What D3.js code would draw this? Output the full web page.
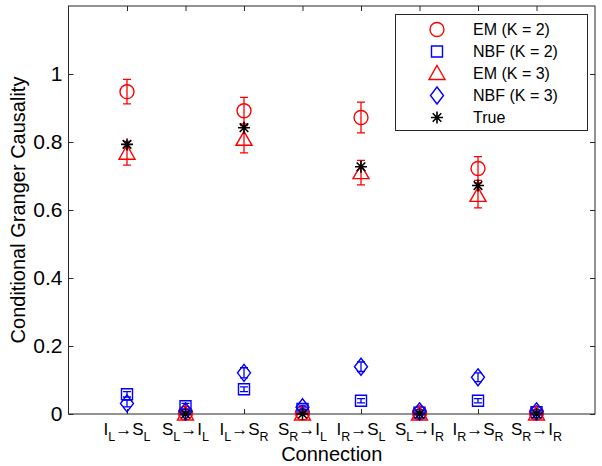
<!DOCTYPE html>
<html><head><meta charset="utf-8">
<script src="https://cdn.jsdelivr.net/npm/d3@7"></script>
<style>body{margin:0;background:#fff}svg{display:block}text{font-family:Arial,"Liberation Sans",sans-serif;fill:#000}</style>
</head><body><svg id="c" width="602" height="466"></svg>
<script>
// ---- data ----
const categories = ["I_L→S_L","S_L→I_L","I_L→S_R","S_R→I_L","I_R→S_L","S_L→I_R","I_R→S_R","S_R→I_R"];
const yTicks = [0, 0.2, 0.4, 0.6, 0.8, 1];
const seriesNames = ["EM (K = 2)","NBF (K = 2)","EM (K = 3)","NBF (K = 3)","True"];
const emK2     = [0.948, 0.003, 0.892, 0.003, 0.872, 0.003, 0.722, 0.003];
const emK2Err  = [0.036, 0.003, 0.039, 0.003, 0.045, 0.002, 0.035, 0.002];
const nbfK2    = [0.058, 0.023, 0.073, 0.015, 0.039, 0.004, 0.039, 0.005];
const nbfK2Err = [0.008, 0.008, 0.007, 0.006, 0.006, 0.003, 0.006, 0.003];
const emK3     = [0.767, 0.000, 0.808, 0.000, 0.710, 0.000, 0.643, 0.000];
const emK3Err  = [0.035, 0.002, 0.040, 0.002, 0.036, 0.002, 0.037, 0.002];
const nbfK3    = [0.031, 0.008, 0.121, 0.020, 0.139, 0.008, 0.108, 0.008];
const nbfK3Err = [0.010, 0.005, 0.015, 0.006, 0.014, 0.004, 0.013, 0.004];
const trueVals = [0.793, 0.000, 0.842, 0.000, 0.727, 0.000, 0.672, 0.000];

// ---- layout ----
const svg = d3.select("#c");
const L = 68.5, R = 595, T = 6, B = 414;
const x = d3.scaleLinear().domain([0, 9]).range([L, R]);
const y = d3.scaleLinear().domain([0, 1.2]).range([B, T]);
const axisColor = "#262626";

const series = [
  {name: seriesNames[0], vals: emK2, err: emK2Err, color: "#ff0000", shape: "circle"},
  {name: seriesNames[1], vals: nbfK2, err: nbfK2Err, color: "#0000ff", shape: "square"},
  {name: seriesNames[2], vals: emK3, err: emK3Err, color: "#ff0000", shape: "triangle"},
  {name: seriesNames[3], vals: nbfK3, err: nbfK3Err, color: "#0000ff", shape: "diamond"},
  {name: seriesNames[4], vals: trueVals, err: null, color: "#000000", shape: "star"}
];

function markerPath(shape) {
  switch (shape) {
    case "circle": return d3.path().toString() || "M7,0A7,7 0 1,1 -7,0A7,7 0 1,1 7,0Z";
    case "square": return "M-5.5,-5.5H5.5V5.5H-5.5Z";
    case "triangle": return "M0,-8L8,6H-8Z";
    case "diamond": return "M0,-8.5L6.5,0L0,8.5L-6.5,0Z";
    case "star": return "M-6,0H6M0,-6V6M-4.3,-4.3L4.3,4.3M-4.3,4.3L4.3,-4.3";
  }
}
function drawMarker(g, shape, color) {
  if (shape === "circle") {
    g.append("circle").attr("r", 7).attr("fill", "none").attr("stroke", color).attr("stroke-width", 1.4);
  } else {
    g.append("path").attr("d", markerPath(shape)).attr("fill", "none")
      .attr("stroke", color).attr("stroke-width", shape === "star" ? 1.6 : 1.4);
  }
}

// frame
svg.append("rect").attr("x", L).attr("y", T).attr("width", R - L).attr("height", B - T)
  .attr("fill", "none").attr("stroke", axisColor).attr("stroke-width", 1);

// axes
const idx = d3.range(1, 9);
const gl = svg.append("g").attr("transform", `translate(${L},0)`)
  .call(d3.axisLeft(y).tickValues(yTicks).tickSize(-5).tickPadding(6).tickFormat(d3.format("~g")));
const gr = svg.append("g").attr("transform", `translate(${R},0)`)
  .call(d3.axisRight(y).tickValues(yTicks).tickSize(-5).tickFormat(""));
const gb = svg.append("g").attr("transform", `translate(0,${B})`)
  .call(d3.axisBottom(x).tickValues(idx).tickSize(-5).tickFormat(""));
const gt = svg.append("g").attr("transform", `translate(0,${T})`)
  .call(d3.axisTop(x).tickValues(idx).tickSize(-5).tickFormat(""));
[gl, gr, gb, gt].forEach(g => {
  g.select(".domain").remove();
  g.selectAll(".tick line").attr("stroke", axisColor);
});
gl.selectAll(".tick text").attr("font-size", 21).attr("fill", "#000")
  .style("font-family", 'Arial,"Liberation Sans",sans-serif');

// x tick labels with subscripts
categories.forEach((c, i) => {
  const m = c.match(/^(\w)_(\w)→(\w)_(\w)$/);
  const t = svg.append("text").attr("x", x(i + 1)).attr("y", 435)
    .attr("text-anchor", "middle").attr("font-size", 17);
  t.append("tspan").text(m[1]);
  t.append("tspan").attr("dy", 6).attr("font-size", 12.5).text(m[2]);
  t.append("tspan").attr("dy", -6).text("→" + m[3]);
  t.append("tspan").attr("dy", 6).attr("font-size", 12.5).text(m[4]);
});

// axis titles
svg.append("text").attr("x", (L + R) / 2).attr("y", 461).attr("text-anchor", "middle")
  .attr("font-size", 20).text("Connection");
svg.append("text").attr("transform", `translate(25,${(T + B) / 2}) rotate(-90)`)
  .attr("text-anchor", "middle").attr("font-size", 20).text("Conditional Granger Causality");

// data
series.forEach(s => {
  const g = svg.append("g");
  s.vals.forEach((v, i) => {
    const cx = x(i + 1);
    if (s.err) {
      const e = s.err[i];
      g.append("path")
        .attr("d", `M${cx},${y(v - e)}V${y(v + e)}M${cx - 4},${y(v - e)}H${cx + 4}M${cx - 4},${y(v + e)}H${cx + 4}`)
        .attr("stroke", s.color).attr("stroke-width", 1.3).attr("fill", "none");
    }
    const mg = g.append("g").attr("transform", `translate(${cx},${y(v)})`);
    drawMarker(mg, s.shape, s.color);
  });
});

// legend
const lg = svg.append("g");
lg.append("rect").attr("x", 395.5).attr("y", 14.5).attr("width", 192).attr("height", 116)
  .attr("fill", "#fff").attr("stroke", axisColor).attr("stroke-width", 1);
series.forEach((s, i) => {
  const yy = 29.5 + i * 22;
  const mg = lg.append("g").attr("transform", `translate(437,${yy})`);
  drawMarker(mg, s.shape, s.color);
  lg.append("text").attr("x", 473).attr("y", yy).attr("dy", "0.35em").attr("font-size", 16).text(s.name);
});
</script></body></html>
